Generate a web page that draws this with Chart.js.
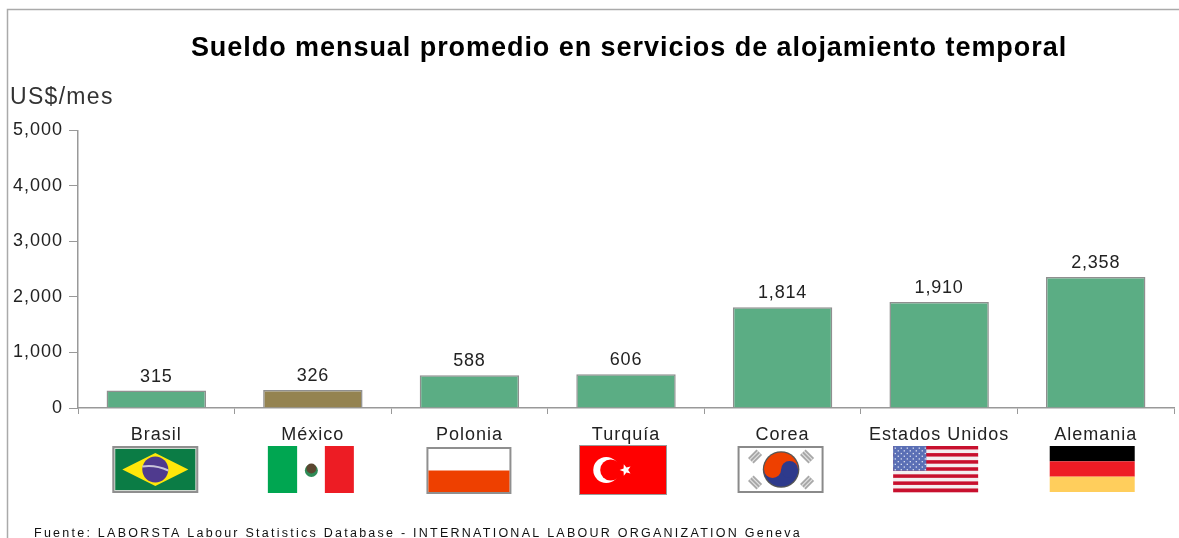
<!DOCTYPE html>
<html><head><meta charset="utf-8">
<style>html,body{margin:0;padding:0;background:#fff}#w{width:1179px;height:538px}</style>
<script src="https://cdn.jsdelivr.net/npm/chart.js@4"></script></head>
<body><div id="w"><canvas id="c"></canvas></div>
<script>
const categories = ['Brasil','México','Polonia','Turquía','Corea','Estados Unidos','Alemania'];
const wages = [315,326,588,606,1814,1910,2358];
const tickValues = [0,1000,2000,3000,4000,5000];
const barColors = ['#5BAD84','#948350','#5BAD84','#5BAD84','#5BAD84','#5BAD84','#5BAD84'];
const chartTitle = 'Sueldo mensual promedio en servicios de alojamiento temporal';
const unitLabel = 'US$/mes';
const sourceNote = 'Fuente: LABORSTA Labour Statistics Database - INTERNATIONAL LABOUR ORGANIZATION Geneva';
const fmt = v => v.toLocaleString('en-US');
const FONT = '"Liberation Sans", Arial, sans-serif';

function rect(c,col,x,y,w,h){c.fillStyle=col;c.fillRect(x,y,w,h);}
function star(c,cx,cy,r,col,rot){c.fillStyle=col;c.beginPath();for(let i=0;i<10;i++){const a=rot+i*Math.PI/5,q=i%2?r*0.42:r;c.lineTo(cx+q*Math.sin(a),cy-q*Math.cos(a));}c.closePath();c.fill();}
const flags = [
 (c,x,y,w,h)=>{ // Brasil
  rect(c,'#8f8f8f',x,y,w,h);rect(c,'#cfd8d0',x+2,y+2,w-4,h-4);rect(c,'#0B7C45',x+3,y+3,w-6,h-6);
  c.fillStyle='#FFE70A';c.beginPath();c.moveTo(x+10,y+h/2);c.lineTo(x+w/2,y+7);c.lineTo(x+w-10,y+h/2);c.lineTo(x+w/2,y+h-7);c.closePath();c.fill();
  c.fillStyle='#4F3A8E';c.beginPath();c.arc(x+w/2,y+h/2,13,0,7);c.fill();
  c.strokeStyle='#c9c4da';c.lineWidth=2;c.beginPath();c.moveTo(x+w/2-13,y+h/2-3);c.quadraticCurveTo(x+w/2,y+h/2-5,x+w/2+13,y+h/2+1);c.stroke();},
 (c,x,y,w,h)=>{ // México
  rect(c,'#00A651',x,y,29.5,h);rect(c,'#fff',x+29.5,y,27.5,h);rect(c,'#ED1C24',x+57,y,w-57,h);
  c.fillStyle='#2e8b57';c.beginPath();c.arc(x+w/2+0.5,y+h/2+1,6.5,0,7);c.fill();
  c.fillStyle='#5b4630';c.beginPath();c.arc(x+w/2+0.5,y+h/2-1,5,0,7);c.fill();},
 (c,x,y,w,h)=>{ // Polonia
  rect(c,'#8f8f8f',x,y,w,h);rect(c,'#fff',x+2,y+2,w-4,h-4);rect(c,'#EE4000',x+2,y+h/2,w-4,h/2-2);},
 (c,x,y,w,h)=>{ // Turquía
  rect(c,'#9a9a9a',x,y,w,h);rect(c,'#FF0000',x+1,y+1,w-2,h-2);
  c.fillStyle='#fff';c.beginPath();c.arc(x+w*0.31,y+h/2,13,0,7);c.fill();
  c.fillStyle='#FF0000';c.beginPath();c.arc(x+w*0.36,y+h/2,10.5,0,7);c.fill();
  star(c,x+w*0.53,y+h/2,6,'#fff',-Math.PI/2);},
 (c,x,y,w,h)=>{ // Corea
  rect(c,'#8a8a8a',x,y,w,h);rect(c,'#fff',x+2,y+2,w-4,h-4);
  const cx=x+w/2+0.5,cy=y+h/2,r=17;
  c.fillStyle='#555';c.beginPath();c.arc(cx,cy,r+1.3,0,7);c.fill();
  c.fillStyle='#EE4000';c.beginPath();c.arc(cx,cy,r,Math.PI,0);c.fill();
  c.fillStyle='#2E3A8C';c.beginPath();c.arc(cx,cy,r,0,Math.PI);c.fill();
  c.fillStyle='#EE4000';c.beginPath();c.arc(cx-r/2,cy,r/2,0,7);c.fill();
  c.fillStyle='#2E3A8C';c.beginPath();c.arc(cx+r/2,cy,r/2,0,7);c.fill();
  [[-26,-13],[26,-13],[-26,13],[26,13]].forEach(([dx,dy])=>{c.save();c.translate(cx+dx,cy+dy);c.rotate(dx*dy>0?Math.PI/4:-Math.PI/4);c.fillStyle='#a8a8a8';c.fillRect(-4,-6,8,12);c.fillStyle='#e6e6e6';[-1.5,1.5].forEach(o=>c.fillRect(o-.5,-6,1,12));c.restore();});},
 (c,x,y,w,h)=>{ // Estados Unidos
  for(let i=0;i<13;i++)rect(c,i%2?'#f4eef0':'#C8102E',x,y+i*h/13,w,h/13+.3);
  rect(c,'#5A6FB5',x,y,w*0.39,h*7/13);
  c.fillStyle='#dfe4f2';for(let r=0;r<9;r++)for(let k=0;k<11;k++)if((r+k)%2==0)c.fillRect(x+1.5+k*3,y+1.5+r*2.7,1.3,1.3);},
 (c,x,y,w,h)=>{ // Alemania
  rect(c,'#000',x,y,w,h/3);rect(c,'#EE1C25',x,y+h/3,w,h/3);rect(c,'#FFCE5C',x,y+2*h/3,w,h/3);}
];
const flagBox = [[-44,446,86,47],[-45,446,86,47],[-43,447,85,47],[-47,445,88,50],[-45,446,86,47],[-46,446,85,46],[-46,446,85,46]];

const deco = {
 id:'deco',
 afterLayout(ch){
  const t=ch.titleBlock;
  if(t&&!t._spaced){t._spaced=true;const d=t.draw.bind(t);t.draw=function(){const c=ch.ctx;c.save();c.letterSpacing='0.95px';c.translate(3,0);d();c.restore();};}
 },
 beforeDraw(ch){
  const c=ch.ctx;c.save();
  c.strokeStyle='#aaa';c.lineWidth=1.5;
  c.beginPath();c.moveTo(7.5,538);c.lineTo(7.5,9.5);c.lineTo(1179,9.5);c.stroke();
  c.restore();
  c.letterSpacing='1px';
 },
 afterDraw(ch){
  const c=ch.ctx,xs=ch.scales.x,ys=ch.scales.y;
  c.save();
  c.textBaseline='alphabetic';c.textAlign='left';
  c.letterSpacing='1.3px';c.fillStyle='#333';c.font='23px '+FONT;c.fillText(unitLabel,10,104);
  c.fillStyle='#111';c.font='12.5px '+FONT;c.letterSpacing='2.25px';c.fillText(sourceNote,34,537);
  c.letterSpacing='0.8px';c.font='18px '+FONT;c.fillStyle='#222';c.textAlign='center';
  wages.forEach((v,i)=>c.fillText(fmt(v),xs.getPixelForValue(i),ys.getPixelForValue(v)-9));
  c.letterSpacing='0px';
  flags.forEach((f,i)=>{const b=flagBox[i];f(c,xs.getPixelForValue(i)+b[0],b[1],b[2],b[3]);});
  c.restore();
 }
};

new Chart(document.getElementById('c'),{
 type:'bar',
 data:{labels:categories,datasets:[{data:wages,backgroundColor:barColors,borderColor:'#8f8f8f',borderWidth:1.5,barPercentage:0.635,categoryPercentage:1}]},
 plugins:[deco],
 options:{
  responsive:true,maintainAspectRatio:false,animation:false,
  layout:{padding:{left:8,right:5,top:0,bottom:0}},
  plugins:{legend:{display:false},tooltip:{enabled:false},
   title:{display:true,fullSize:false,text:chartTitle,color:'#000',font:{family:FONT,size:27,weight:'bold'},padding:{top:32,bottom:66}}},
  scales:{
   x:{offset:true,border:{color:'#999',width:1.5},grid:{display:true,drawOnChartArea:false,color:'#999',tickLength:6},
      ticks:{color:'#222',font:{family:FONT,size:18},padding:10,maxRotation:0,autoSkip:false},
      afterFit(s){s.height=130;}},
   y:{min:0,max:5000,border:{color:'#999',width:1.5},grid:{display:true,drawOnChartArea:false,color:'#999',tickLength:9},
      afterBuildTicks(s){s.ticks=tickValues.map(v=>({value:v}));},
      ticks:{color:'#222',font:{family:FONT,size:18},padding:6,callback:fmt},
      afterFit(s){s.width=70;}}
  }
 }
});
</script></body></html>
